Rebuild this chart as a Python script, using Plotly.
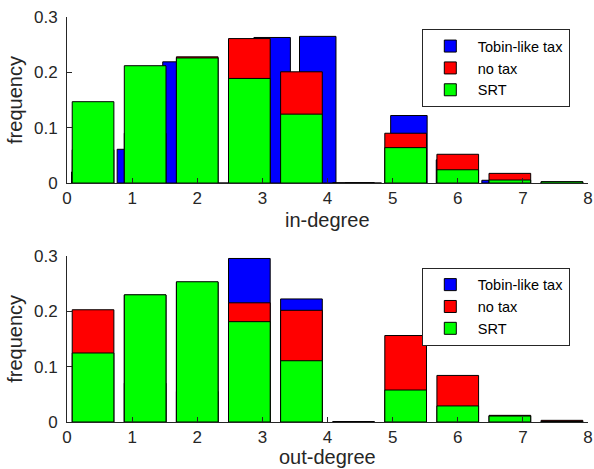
import plotly.graph_objects as go
import numpy as np

series_names = ["Tobin-like tax", "no tax", "SRT"]
series_colors = ["#0000ff", "#ff0000", "#00ff00"]

# bin centres (MATLAB hist, 10 bins)
bins_in_tobin = [0.35, 1.05, 1.75, 2.45, 3.15, 3.85, 4.55, 5.25, 5.95, 6.65]
bins_in_notax = [0.4, 1.2, 2.0, 2.8, 3.6, 4.4, 5.2, 6.0, 6.8, 7.6]
bins_in_srt = [0.4, 1.2, 2.0, 2.8, 3.6, 4.4, 5.2, 6.0, 6.8, 7.6]

in_tobin = [0.020, 0.061, 0.219, 0.0, 0.263, 0.265, 0.0, 0.122, 0.042, 0.005]
in_notax = [0.060, 0.090, 0.228, 0.261, 0.201, 0.0, 0.090, 0.052, 0.0175, 0.002]
in_srt = [0.147, 0.212, 0.226, 0.189, 0.1245, 0.0, 0.064, 0.024, 0.0055, 0.0025]

bins_out_tobin = [0.4, 1.2, 2.0, 2.8, 3.6, 4.4, 5.2, 6.0, 6.8, 7.6]
bins_out_notax = [0.4, 1.2, 2.0, 2.8, 3.6, 4.4, 5.2, 6.0, 6.8, 7.6]
bins_out_srt = [0.4, 1.2, 2.0, 2.8, 3.6, 4.4, 5.2, 6.0, 6.8, 7.6]

out_tobin = [0.0, 0.229, 0.252, 0.295, 0.222, 0.0, 0.0, 0.0, 0.0, 0.0]
out_notax = [0.2025, 0.07, 0.055, 0.215, 0.2015, 0.0, 0.156, 0.084, 0.012, 0.003]
out_srt = [0.1245, 0.2295, 0.253, 0.181, 0.1105, 0.0, 0.0577, 0.029, 0.0108, 0.001]

x_ticks = [0, 1, 2, 3, 4, 5, 6, 7, 8]
y_ticks = [0, 0.1, 0.2, 0.3]
y_ticklabels = ["0", "0.1", "0.2", "0.3"]
x_titles = ["in-degree", "out-degree"]
y_title = "frequency"

FONT = "Liberation Sans, Arial, Helvetica, sans-serif"
AX = "#262626"
TICK_SIZE = 17
TITLE_SIZE = 20
LEG_SIZE = 14.5

fig = go.Figure()

def add_panel(bins_list, vals_list, xa, ya, legend):
    for name, color, bins, vals in zip(series_names, series_colors, bins_list, vals_list):
        b = np.asarray(bins, dtype=float)
        w = 0.8 * (b[1] - b[0])
        fig.add_trace(go.Bar(
            x=b, y=vals, width=w, name=name, xaxis=xa, yaxis=ya,
            marker=dict(color=color, line=dict(color="black", width=1)),
            legend=legend, showlegend=True, hoverinfo="skip",
        ))

add_panel([bins_in_tobin, bins_in_notax, bins_in_srt],
          [in_tobin, in_notax, in_srt], "x", "y", "legend")
add_panel([bins_out_tobin, bins_out_notax, bins_out_srt],
          [out_tobin, out_notax, out_srt], "x2", "y2", "legend2")

top_dom = [0.590, 1.0]
bot_dom = [0.0, 0.4106]

def xaxis(anchor):
    return dict(domain=[0, 1], anchor=anchor, range=[0, 8], tickvals=x_ticks,
                ticks="inside", ticklen=5, tickcolor=AX, showline=True,
                linecolor=AX, linewidth=1, showgrid=False, zeroline=False,
                automargin=False, ticklabeloverflow="allow",
                tickfont=dict(family=FONT, size=TICK_SIZE, color=AX))

def yaxis(anchor, dom):
    return dict(domain=dom, anchor=anchor, range=[0, 0.3], tickvals=y_ticks,
                ticktext=y_ticklabels, ticks="inside", ticklen=5, tickcolor=AX,
                showline=True, linecolor=AX, linewidth=1, showgrid=False,
                zeroline=False, automargin=False, ticklabelstandoff=5,
                ticklabeloverflow="allow",
                tickfont=dict(family=FONT, size=TICK_SIZE, color=AX),
                title=dict(text=y_title, font=dict(family=FONT, size=TITLE_SIZE, color=AX), standoff=5))

def legend(ytop):
    return dict(x=0.681, y=ytop, xanchor="left", yanchor="top",
                bgcolor="white", bordercolor=AX, borderwidth=1,
                font=dict(family=FONT, size=LEG_SIZE, color="black"),
                tracegroupgap=0, itemwidth=45, traceorder="normal")

fig.update_layout(
    width=594, height=469,
    margin=dict(l=67, r=6, t=17, b=47),
    paper_bgcolor="white", plot_bgcolor="white",
    barmode="overlay",
    xaxis=xaxis("y"),
    yaxis=yaxis("x", top_dom),
    xaxis2=xaxis("y2"),
    yaxis2=yaxis("x2", bot_dom),
    legend=legend(0.970),
    legend2=legend(0.381),
)

for text, ypos in zip(x_titles, [0.500, -0.087]):
    fig.add_annotation(text=text, xref="paper", yref="paper", x=0.5, y=ypos,
                       xanchor="center", yanchor="middle", showarrow=False,
                       font=dict(family=FONT, size=TITLE_SIZE, color=AX))

fig.write_html("out.html", config={"displayModeBar": False},
               post_script="document.body.style.margin='0';document.body.style.overflow='hidden';")
